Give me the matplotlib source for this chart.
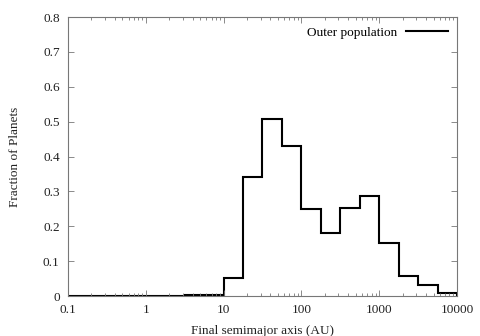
import numpy as np
import matplotlib
matplotlib.use("Agg")
import matplotlib.pyplot as plt
from matplotlib.ticker import FixedLocator, LogLocator, NullFormatter

# quarter-decade bins from 0.1 AU to 10000 AU
bin_exponents = np.arange(-1.0, 4.01, 0.25)
bin_edges = 10 ** bin_exponents
fraction = [0.0, 0.0, 0.0, 0.0, 0.0, 0.0, 0.002, 0.004,
            0.051, 0.342, 0.509, 0.431, 0.251, 0.182, 0.253, 0.288,
            0.153, 0.057, 0.032, 0.009]
x_ticks = [0.1, 1, 10, 100, 1000, 10000]
x_labels = ["0.1", "1", "10", "100", "1000", "10000"]
y_ticks = [0, 0.1, 0.2, 0.3, 0.4, 0.5, 0.6, 0.7, 0.8]
y_labels = ["0", "0.1", "0.2", "0.3", "0.4", "0.5", "0.6", "0.7", "0.8"]

plt.rcParams["font.family"] = ["Liberation Serif", "DejaVu Serif"]
plt.rcParams["font.size"] = 9.5

fig = plt.figure(figsize=(4.8, 3.36), dpi=100)
ax = fig.add_axes([0.1417, 0.119, 0.8103, 0.830])

ax.stairs(fraction, bin_edges, baseline=0, color="black", linewidth=1.5,
          label="Outer population")

ax.set_xscale("log")
ax.set_xlim(0.1, 10000)
ax.set_ylim(0, 0.8)
ax.xaxis.set_major_locator(FixedLocator(x_ticks))
ax.set_xticklabels(x_labels)
ax.xaxis.set_minor_locator(LogLocator(base=10, subs=np.arange(2, 10), numticks=20))
ax.xaxis.set_minor_formatter(NullFormatter())
ax.set_yticks(y_ticks)
ax.set_yticklabels(y_labels)

ax.tick_params(which="both", direction="in", top=True, right=True,
               color="#777777", labelcolor="#222222")
ax.tick_params(which="major", length=4, width=0.6, pad=6)
ax.tick_params(which="minor", length=2, width=0.6)
for spine in ax.spines.values():
    spine.set_color("#777777")
    spine.set_linewidth(0.8)

ax.set_xlabel("Final semimajor axis (AU)", color="#222222", labelpad=6)
ax.set_ylabel("Fraction of Planets", color="#222222", labelpad=16)

# gnuplot-style key: text first, line sample on the right
ax.legend(loc="upper right", frameon=False, markerfirst=False,
          handlelength=3.2, handletextpad=0.6, borderaxespad=0.3)

fig.savefig("out.png", dpi=100)
